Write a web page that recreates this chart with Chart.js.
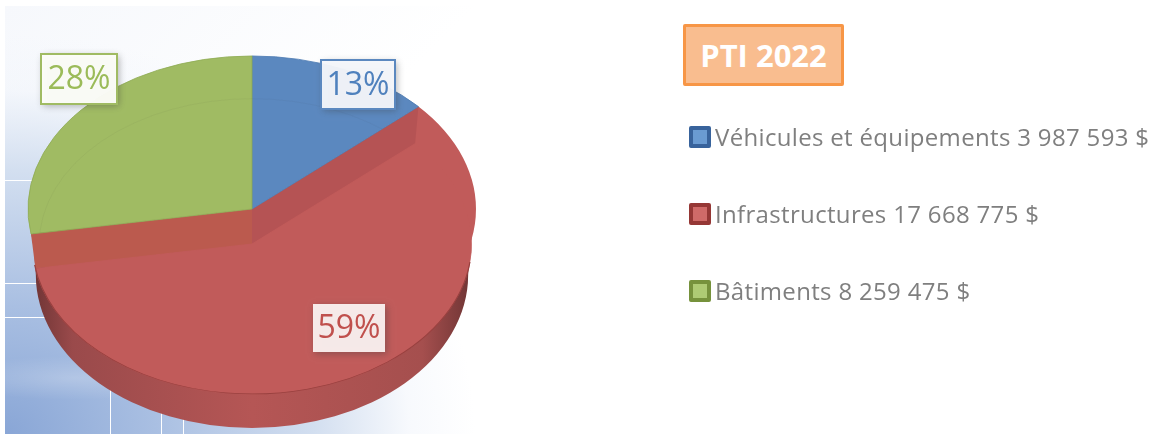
<!DOCTYPE html>
<html>
<head>
<meta charset="utf-8">
<script src="https://cdn.jsdelivr.net/npm/chart.js@4"></script>
<style>
  html, body { margin: 0; padding: 0; background: #fff; }
  #page { position: relative; width: 1158px; height: 434px; overflow: hidden; font-family: "Open Sans", sans-serif; }
  #bg {
    position: absolute; left: 5px; top: 6px; width: 1153px; height: 428px;
    background:
      linear-gradient(#fff, #fff) 0 174px / 32px 1px no-repeat,
      linear-gradient(#fff, #fff) 0 277px / 40px 1px no-repeat,
      linear-gradient(#fff, #fff) 0 311px / 46px 1px no-repeat,
      linear-gradient(#fff, #fff) 105px 380px / 1px 48px no-repeat,
      linear-gradient(#fff, #fff) 156px 402px / 1px 26px no-repeat,
      linear-gradient(#fff, #fff) 178px 400px / 1px 28px no-repeat,
      radial-gradient(ellipse 130px 22px at 70px 372px, rgba(255,255,255,.22), rgba(255,255,255,0)),
      radial-gradient(ellipse 470px 400px at 0 428px, #89a6d6 0%, #a9bfe2 32%, #d3dff0 66%, rgba(240,244,251,.5) 86%, rgba(255,255,255,0) 100%),
      linear-gradient(135deg, #f6f8fc 0, #ffffff 30%);
  }
  #title {
    position: absolute; left: 683px; top: 24px; width: 155px; height: 56px; line-height: 56px;
    border: 3px solid #f79646; border-radius: 2px; background: #f9bd8f;
    color: #fff; font-size: 31px; font-weight: 700; text-align: center;
    font-family: "Open Sans", sans-serif;
  }
  #legend { position: absolute; left: 689px; top: 0; }
  .item { position: absolute; left: 0; white-space: nowrap; height: 22px; }
  .swatch { position: absolute; left: 0; top: 0; width: 14px; height: 14px; border: 4px solid; border-radius: 2px; }
  .txt { position: absolute; left: 26px; top: -5px; line-height: 32px; font-size: 24px; color: #7f7f7f; letter-spacing: .33px; }
  canvas { position: absolute; left: 0; top: 0; }
</style>
</head>
<body>
<div id="page">
  <div id="bg"></div>
  <canvas id="pie" width="1158" height="434"></canvas>
  <div id="title"></div>
  <div id="legend"></div>
</div>
<script>
const chartTitle = 'PTI 2022';
const categories = ['Véhicules et équipements', 'Infrastructures', 'Bâtiments'];
const amounts = [3987593, 17668775, 8259475];
const sliceColors = ['#5b88bf', '#c15b5a', '#a0bb63'];
const edgeColors = ['#4f7cb3', '#c15b5a', '#8fab55'];
const swatchBorders = ['#38639c', '#953735', '#76923c'];
const swatchFills = ['#6a9bd2', '#cf6a68', '#aecb74'];
const legendTops = [126, 203, 280];

const total = amounts.reduce((a, b) => a + b, 0);
const percents = amounts.map(v => Math.round(v / total * 100) + '%');
const money = v => String(v).replace(/\B(?=(\d{3})+$)/g, ' ') + ' $';

document.getElementById('title').textContent = chartTitle;
const legend = document.getElementById('legend');
categories.forEach((c, i) => {
  const row = document.createElement('div');
  row.className = 'item';
  row.style.top = legendTops[i] + 'px';
  row.innerHTML = `<span class="swatch" style="border-color:${swatchBorders[i]};background:${swatchFills[i]}"></span>` +
    `<span class="txt">${c} ${money(amounts[i])}</span>`;
  legend.appendChild(row);
});

// look of the 3D pie: flatten factor, how far the red slice sits below, rim depth
const flatten = 153 / 224;
const liftedIndex = 1;
const drop = 35;
const rimDrop = 66;
const liftedScale = 0.98;

// label boxes, pixels from the pie centre
const labelBoxes = [
  { x: 69, y: -149, w: 74, h: 49, border: '#5b88bf', fill: 'rgba(245,248,252,.95)' },
  { x: 61, y: 95, w: 72, h: 48, border: null, fill: 'rgba(249,238,237,.97)' },
  { x: -211, y: -155, w: 76, h: 50, border: '#a0bb63', fill: 'rgba(252,253,248,.97)' }
];
const labelColors = ['#4f81bd', '#c0504d', '#9bbb59'];

const pie3d = {
  id: 'pie3d',
  beforeDatasetDraw(chart) {
    const ctx = chart.ctx;
    const arcs = chart.getDatasetMeta(0).data;
    const { x: cx, y: cy, outerRadius: r } = arcs[0];
    const red = arcs[liftedIndex];

    // rim under the lifted slice
    const rim = ctx.createLinearGradient(cx - r, 0, cx + r, 0);
    rim.addColorStop(0, '#6a3232');
    rim.addColorStop(0.1, '#9a4a4b');
    rim.addColorStop(0.5, '#b55655');
    rim.addColorStop(0.88, '#a54f4e');
    rim.addColorStop(1, '#6a3232');
    ctx.fillStyle = rim;
    ctx.beginPath();
    ctx.moveTo(cx - r * 0.98, cy + 20);
    ctx.lineTo(cx - r * 0.965, cy + rimDrop);
    ctx.ellipse(cx, cy + rimDrop, r * 0.965, r * flatten, 0, Math.PI, 0, true);
    ctx.lineTo(cx + r * 0.98, cy + 20);
    ctx.closePath();
    ctx.fill();

    const flat = (dy, fn) => {
      ctx.save();
      ctx.translate(cx, cy + dy);
      ctx.scale(1, flatten);
      ctx.translate(-cx, -cy);
      fn();
      ctx.restore();
    };

    // red disc at the level of the other two slices
    flat(0, () => {
      ctx.fillStyle = sliceColors[liftedIndex];
      ctx.beginPath();
      ctx.moveTo(cx, cy);
      ctx.arc(cx, cy, r, red.startAngle, red.endAngle);
      ctx.closePath();
      ctx.fill();
    });

    // the two cut walls between that level and the lifted surface
    const rimPoint = (angle, radius, dy) => [
      cx + Math.cos(angle) * radius,
      cy + dy + Math.sin(angle) * radius * flatten
    ];
    [[red.startAngle, '#b55354'], [red.endAngle, '#bb5a4e']].forEach(([angle, color]) => {
      const a = rimPoint(angle, r, 0);
      const b = rimPoint(angle, r * liftedScale, drop);
      ctx.fillStyle = color;
      ctx.beginPath();
      ctx.moveTo(cx, cy);
      ctx.lineTo(a[0], a[1]);
      ctx.lineTo(b[0], b[1]);
      ctx.lineTo(cx, cy + drop);
      ctx.closePath();
      ctx.fill();
    });

    arcs.forEach((arc, i) => {
      const lifted = i === liftedIndex;
      flat(lifted ? drop : 0, () => {
        if (lifted) {
          ctx.translate(cx, cy);
          ctx.scale(liftedScale, liftedScale);
          ctx.translate(-cx, -cy);
        }
        arc.draw(ctx);
        if (lifted) {
          // dark seam along the front where the surface meets the rim
          ctx.strokeStyle = '#98403f';
          ctx.lineWidth = 1.2;
          ctx.beginPath();
          ctx.arc(cx, cy, r, 0.12, Math.PI - 0.14);
          ctx.stroke();
        } else {
          // faint inner ring of the lower level, seen through the slice
          ctx.save();
          ctx.beginPath();
          ctx.moveTo(cx, cy);
          ctx.arc(cx, cy, r, arc.startAngle, arc.endAngle);
          ctx.closePath();
          ctx.clip();
          ctx.strokeStyle = 'rgba(60,60,60,.06)';
          ctx.lineWidth = 1;
          ctx.beginPath();
          ctx.arc(cx, cy + drop / flatten, r * 0.95, 0, Math.PI * 2);
          ctx.stroke();
          ctx.restore();
        }
      });
    });
    return false;
  },
  afterDraw(chart) {
    const ctx = chart.ctx;
    const { x: cx, y: cy } = chart.getDatasetMeta(0).data[0];
    percents.forEach((txt, i) => {
      const b = labelBoxes[i];
      ctx.save();
      ctx.shadowColor = 'rgba(60,60,60,.4)';
      ctx.shadowBlur = 7;
      ctx.shadowOffsetX = 2;
      ctx.shadowOffsetY = 2;
      ctx.fillStyle = b.fill;
      ctx.fillRect(cx + b.x, cy + b.y, b.w, b.h);
      ctx.restore();
      if (b.border) {
        ctx.strokeStyle = b.border;
        ctx.lineWidth = 2;
        ctx.strokeRect(cx + b.x, cy + b.y, b.w, b.h);
      }
      ctx.fillStyle = labelColors[i];
      ctx.font = '32px "Open Sans", sans-serif';
      ctx.textAlign = 'center';
      ctx.textBaseline = 'middle';
      ctx.fillText(txt, cx + b.x + b.w / 2, cy + b.y + b.h / 2 + 1);
    });
  }
};

new Chart(document.getElementById('pie'), {
  type: 'pie',
  data: {
    labels: categories,
    datasets: [{
      data: amounts,
      backgroundColor: sliceColors,
      borderColor: edgeColors,
      borderWidth: 1
    }]
  },
  options: {
    responsive: false,
    animation: false,
    radius: 224,
    layout: { padding: { left: 28, right: 682, top: 0, bottom: 16 } },
    plugins: { legend: { display: false }, tooltip: { enabled: false } }
  },
  plugins: [pie3d]
});
</script>
</body>
</html>
